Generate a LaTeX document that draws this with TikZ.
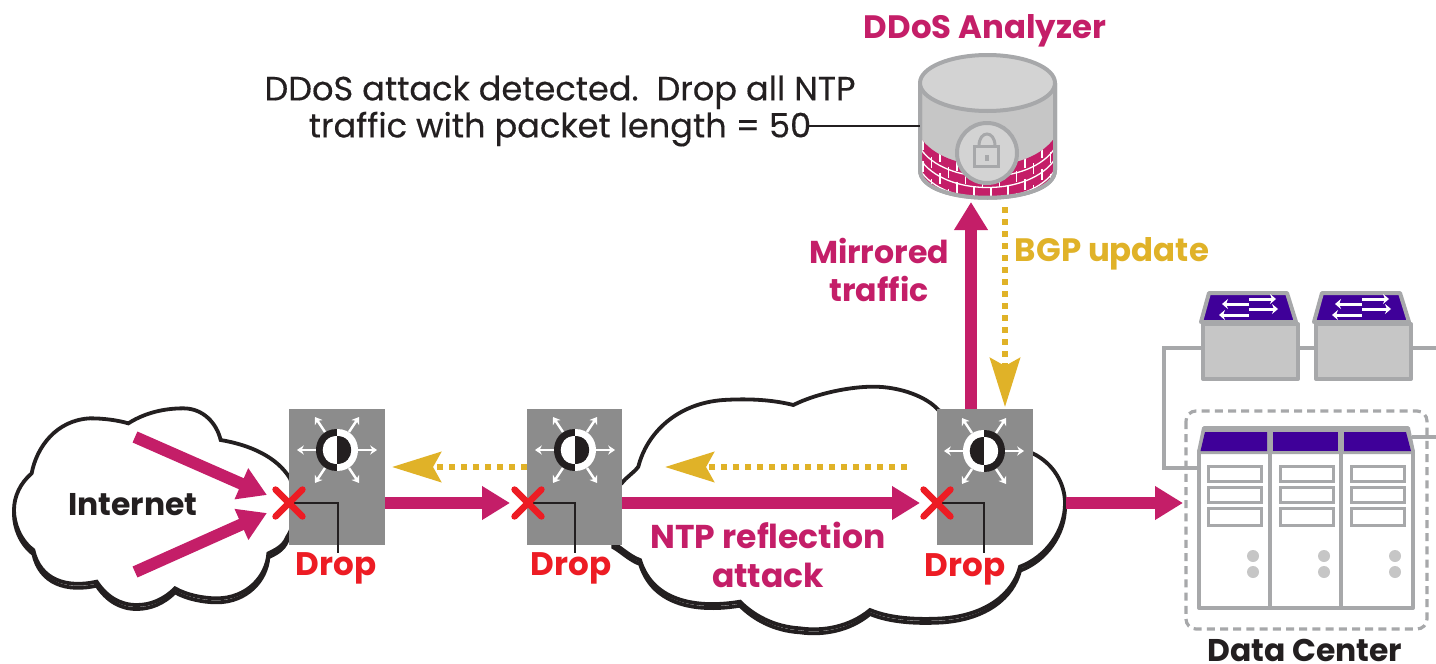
\documentclass[tikz,border=0pt]{standalone}
\usepackage{fontspec}
\setmainfont{Poppins}
\newfontfamily\medfont[FakeBold=0.35]{Poppins}
\usetikzlibrary{arrows.meta}
\definecolor{mag}{HTML}{C41E68}
\definecolor{gold}{HTML}{E0B228}
\definecolor{purp}{HTML}{3F0099}
\definecolor{dropred}{HTML}{ED1C24}
\definecolor{edgegray}{HTML}{A7A8AA}
\definecolor{bodygray}{HTML}{C6C6C6}
\definecolor{topgray}{HTML}{D3D3D3}
\definecolor{boxgray}{HTML}{8C8C8C}
\definecolor{ink}{HTML}{231F20}
\tikzset{
  swbox/.style={fill=boxgray,draw=none,minimum width=48pt,minimum height=68pt,inner sep=0pt},
  traffic/.style={draw=mag,line width=6pt,-{Triangle[length=14pt,width=16pt]}},
  bgp/.style={draw=gold,line width=3.2pt,dash pattern=on 3.2pt off 2.8pt,-{Stealth[length=24.5pt,width=15pt,inset=4pt]}},
  leader/.style={draw=ink,line width=1pt},
  xmark/.style={draw=dropred,line width=3.2pt,line cap=round},
  link/.style={draw=edgegray,line width=1.6pt},
  labelm/.style={text=mag,font=\fontsize{16.2}{19.2}\selectfont\bfseries,align=center,inner sep=0pt},
  labeld/.style={text=dropred,font=\fontsize{16.3}{19}\selectfont\bfseries,inner sep=0pt},
  cloudline/.style={draw=ink,line width=1.9pt},
  wharrow/.style={draw=white,line width=1.2pt,-{Stealth[length=3.4pt,width=4.6pt]}},
  purparrow/.style={draw=white,line width=1.5pt,-{Stealth[length=3pt,width=5pt]}},
  dev/.style={draw=edgegray,line width=2pt,line join=round},
  bay/.style={draw=edgegray,line width=1.5pt,fill=white},
}
\def\cloudA{(385,100) .. controls (440,65) and (500,55) .. (550,55)
 .. controls (610,55) and (650,100) .. (662,150)
 .. controls (750,165) and (830,200) .. (870,265)
 .. controls (890,320) and (890,400) .. (862,440)
 .. controls (850,470) and (825,480) .. (805,490)
 .. controls (800,560) and (740,625) .. (650,625)
 .. controls (610,625) and (560,615) .. (525,595)
 .. controls (490,630) and (450,645) .. (410,645)
 .. controls (360,645) and (320,620) .. (290,575)
 .. controls (200,595) and (120,570) .. (100,480)
 .. controls (60,450) and (42,400) .. (42,360)
 .. controls (42,320) and (60,280) .. (95,250)
 .. controls (110,170) and (170,90) .. (270,85)
 .. controls (310,85) and (350,90) .. (385,100) -- cycle}
\def\cloudB{(550,105) .. controls (620,70) and (720,50) .. (790,50)
 .. controls (870,50) and (950,80) .. (985,120)
 -- (1268,250) .. controls (1330,280) and (1365,340) .. (1365,400)
 .. controls (1365,480) and (1310,560) .. (1230,590)
 .. controls (1210,670) and (1130,735) .. (1000,745)
 .. controls (920,750) and (840,745) .. (780,720)
 .. controls (720,770) and (640,785) .. (570,775)
 .. controls (490,770) and (430,735) .. (390,695)
 .. controls (270,715) and (130,700) .. (90,570)
 .. controls (60,560) and (30,530) .. (10,520)
 -- (10,350) -- (35,340) .. controls (50,320) and (70,310) .. (85,290)
 .. controls (110,190) and (200,100) .. (340,90)
 .. controls (420,85) and (490,90) .. (550,105) -- cycle}
\newcommand{\swicon}[3]{%
 \begin{scope}[shift={(#1,#2)},xscale=#3]
  \fill[ink] (0,-21) .. controls (-28,-21) and (-28,21) .. (0,21) -- cycle;
  \fill[white] (0,-21) .. controls (28,-21) and (28,21) .. (0,21) -- cycle;
  \fill[white] (0,-14) .. controls (-18.7,-14) and (-18.7,14) .. (0,14) -- cycle;
  \fill[ink] (0,-14) .. controls (18.7,-14) and (18.7,14) .. (0,14) -- cycle;
  \foreach \ax/\ay/\bx/\by in {-21/0/-40/0,21/0/40/0,-12/-18/-22/-33,12/-18/22/-33,-12/18/-22/33,12/18/22/33}
   \draw[wharrow] (\ax,\ay) -- (\bx,\by);
 \end{scope}}
\newcommand{\purpleswitch}[2]{%
 \begin{scope}[shift={(#1,0)}]
  \node[dev,fill=bodygray,minimum width=47.5pt,minimum height=27.5pt,inner sep=0pt,anchor=north west] (#2) at (0,322) {};
  \draw[dev,fill=purp] (0,322) -- (8,293) -- (86,293) -- (95,322) -- cycle;
  \draw[purparrow] (48,299) -- (75,299);
  \draw[purparrow] (48,304) -- (21,304);
  \draw[purparrow] (48,309) -- (77,309);
  \draw[purparrow] (48,315) -- (18,315);
 \end{scope}}
\begin{document}
\begin{tikzpicture}[x=0.5pt,y=-0.5pt]
\useasboundingbox (0,0) rectangle (1436,664);
\fill[white] (0,0) rectangle (1436,664);

% clouds
\begin{scope}[shift={(0,390)},x=0.16667pt,y=-0.16667pt]
 \draw[cloudline,yshift=-2pt] \cloudA;
 \draw[cloudline,fill=white] \cloudA;
\end{scope}
\begin{scope}[shift={(610,370)},x=0.16667pt,y=-0.16667pt]
 \draw[cloudline,yshift=-2pt] \cloudB;
 \draw[cloudline,fill=white] \cloudB;
\end{scope}

% routers
\node[swbox] (sw1) at (337,477) {};
\node[swbox,minimum width=47.5pt] (sw2) at (574.5,477) {};
\node[swbox] (sw3) at (985,477) {};
\swicon{337}{450}{1}
\swicon{575}{450}{1}
\swicon{984}{451}{-1}

% positions
\coordinate (x1) at (289,503);
\coordinate (x2) at (528,503);
\coordinate (x3) at (937,503);
\coordinate (l1) at (338,553);
\coordinate (l2) at (575,553);
\coordinate (l3) at (984,553);

% internet arrows
\coordinate (ia) at (135,437);
\coordinate (ib) at (135,572);
\coordinate (ita) at (267,495);
\coordinate (itb) at (267,513);
\draw[traffic] (ia) -- (ita);
\draw[traffic] (ib) -- (itb);

% traffic
\coordinate (t2) at (510,503);
\coordinate (t3) at (920,503);
\coordinate (t4a) at (1066,503);
\coordinate (t4) at (1183,503);
\draw[traffic] (sw1.east |- x2) -- (t2);
\draw[traffic] (sw2.east |- x3) -- (t3);
\draw[traffic] (t4a) -- (t4);

% leaders and drop marks
\draw[leader] (x1) -| (l1);
\draw[leader] (x2) -| (l2);
\draw[leader] (x3) -| (l3);
\foreach \c in {x1,x2,x3}{
 \draw[xmark] ([shift={(-13.5,-13.5)}]\c) -- ([shift={(13.5,13.5)}]\c);
 \draw[xmark] ([shift={(-13.5,13.5)}]\c) -- ([shift={(13.5,-13.5)}]\c);
}
\node[labeld] (d1) at (336,568) {Drop};
\node[labeld] (d2) at (571,568) {Drop};
\node[labeld] (d3) at (965,569) {Drop};

% dotted returns
\coordinate (g1s) at (527,467);
\coordinate (g1e) at (392,467);
\coordinate (g2s) at (907,467);
\coordinate (g2e) at (665,467);
\draw[bgp] (g1s) -- (g1e);
\draw[bgp] (g2s) -- (g2e);

% analyzer
\draw[dev,fill=bodygray] (920,83) -- (920,170) .. controls (920,207) and (1055,207) .. (1055,170) -- (1055,83) -- cycle;
\begin{scope}
 \clip (920,137) .. controls (945,175) and (1030,175) .. (1055,137) -- (1055,170) .. controls (1055,207) and (920,207) .. (920,170) -- cycle;
 \fill[mag] (918,130) rectangle (1057,205);
 \foreach \k in {1,...,5}{
  \pgfmathsetmacro\Y{137+11*\k}
  \draw[white,line width=0.65pt] (920,\Y) .. controls (945,\Y+38) and (1030,\Y+38) .. (1055,\Y);
 }
 \foreach \k in {0,...,5}{
  \pgfmathsetmacro\Y{137+11*\k}
  \foreach \i in {-1,...,8}{
   \pgfmathsetmacro\xx{923+\i*17+mod(\k,2)*8.5}
   \pgfmathsetmacro\yy{\Y+28.5*max(0,1-((\xx-987.5)/67.5)^2)}
   \draw[white,line width=0.6pt] (\xx,\yy) -- (\xx,\yy+11);
  }
 }
\end{scope}
\draw[dev] (920,83) -- (920,170) .. controls (920,207) and (1055,207) .. (1055,170) -- (1055,83);
\draw[dev,fill=topgray] (987.5,83) ellipse [x radius=67.5,y radius=28];
\coordinate (lockc) at (987,153);
\draw[dev,fill=topgray] (lockc) circle [radius=30];
\draw[edgegray,line width=1.5pt] (979,146) .. controls (979,130) and (995,130) .. (995,146);
\draw[edgegray,line width=1.5pt] (974.5,146) rectangle (998,166);
\fill[edgegray] (985,155) rectangle (989,161);
\coordinate (ana) at (920,126);

% analyzer links
\coordinate (m1) at (971,409);
\coordinate (m2) at (971,202);
\draw[traffic] (m1) -- (m2);
\coordinate (b1) at (1005,207);
\coordinate (b2) at (1005,407);
\draw[bgp] (b1) -- (b2);

% texts
\node[labelm] (title) at (985,31) {DDoS Analyzer};
\node[text=ink,font=\fontsize{16.8}{18.5}\selectfont\medfont,align=center,inner sep=0pt] (msg) at (560,111) {DDoS attack detected.\ \ Drop all NTP\\traffic with packet length = 50};
\draw[leader] (808,126) -- (ana);
\node[labelm,font=\fontsize{15.8}{19.2}\selectfont\bfseries] (mirror) at (879,270) {Mirrored\\traffic};
\node[labelm,text=gold] (bgplab) at (1112,254) {BGP update};
\node[labelm,font=\fontsize{16.5}{19.2}\selectfont\bfseries] (ntp) at (768,555) {NTP reflection\\attack};
\node[text=ink,font=\fontsize{15.7}{19}\selectfont\bfseries,inner sep=0pt] (inet) at (133,505) {Internet};
\node[text=ink,font=\fontsize{15.7}{19}\selectfont\bfseries,inner sep=0pt,anchor=base] (dc) at (1305,661) {Data Center};

% purple switches
\purpleswitch{1201}{pa}
\purpleswitch{1314}{pb}
\coordinate (c1) at (1164,348);
\coordinate (c2) at (1164,468);
\coordinate (c3) at (1199,468);
\coordinate (c4) at (1436,348);
\coordinate (c5) at (1412,437);
\coordinate (c6) at (1436,437);
\coordinate (pal) at (1201,348);
\coordinate (par) at (1296,348);
\coordinate (pbl) at (1314,348);
\coordinate (pbr) at (1409,348);
\draw[link] (pal) -- (c1) -- (c2) -- (c3);
\draw[link] (par) -- (pbl);
\draw[link] (pbr) -- (c4);

% data centre
\draw[edgegray,line width=1.6pt,dash pattern=on 4pt off 2.6pt,rounded corners=5pt] (1186,411) rectangle (1427,629);
\draw[link] (c5) -- (c6);
\foreach \ox/\tx in {1199/1270,1270/1341,1341/1413}{
 \draw[dev,fill=white] (\ox,451) rectangle (\tx,608);
}
\draw[dev,fill=edgegray] (1199,452) -- (1204,428) -- (1408,428) -- (1413,452) -- cycle;
\fill[purp] (1200.5,451) -- (1205,432) -- (1267,432) -- (1267,451) -- cycle;
\fill[purp] (1273,432) -- (1338,432) -- (1338,451) -- (1273,451) -- cycle;
\fill[purp] (1344,432) -- (1406,432) -- (1411,451) -- (1344,451) -- cycle;
\foreach \bx/\lx in {1208/1253,1280/1324,1351/1395}{
 \draw[bay] (\bx,466) rectangle ++(53,15);
 \draw[bay] (\bx,487) rectangle ++(53,15);
 \draw[bay] (\bx,508) rectangle ++(53,17);
 \fill[bodygray] (\lx,556) circle [radius=6];
 \fill[bodygray] (\lx,572) circle [radius=6];
}
\end{tikzpicture}
\end{document}
